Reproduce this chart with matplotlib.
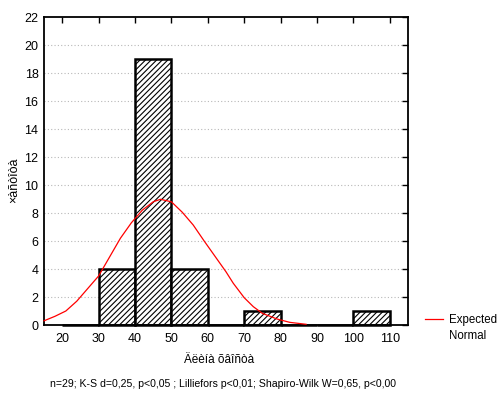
import matplotlib
matplotlib.use('Agg')
import matplotlib.pyplot as plt
from matplotlib.lines import Line2D


# histogram bins (left edges) and counts
BIN_LEFT = [20, 30, 40, 50, 60, 70, 80, 90, 100]
COUNTS = [0, 4, 19, 4, 0, 1, 0, 0, 1]
BIN_WIDTH = 10

# expected normal curve
CURVE_X = [15, 18, 21, 24, 27, 30, 33, 36, 39, 42, 45, 47, 50, 53, 56, 59,
           62, 65, 67, 70, 72.5, 75, 79, 82.5, 87]
CURVE_Y = [0.3, 0.62, 1.0, 1.7, 2.6, 3.5, 4.85, 6.2, 7.3, 8.2, 8.8, 8.98,
           8.8, 8.05, 7.14, 6.0, 4.9, 3.8, 2.98, 1.95, 1.31, 0.83, 0.43, 0.19, 0.05]

XTICKS = [20, 30, 40, 50, 60, 70, 80, 90, 100, 110]
YTICKS = list(range(0, 23, 2))

X_LABEL = 'Äëèíà õâîñòà'
Y_LABEL = '×àñòîòà'
STATS = 'n=29; K-S d=0,25, p<0,05 ; Lilliefors p<0,01; Shapiro-Wilk W=0,65, p<0,00'

if __name__ == '__main__':
    plt.rcParams['font.family'] = ['Liberation Sans', 'DejaVu Sans']
    plt.rcParams['hatch.linewidth'] = 0.8

    fig = plt.figure(figsize=(5.02, 3.99), dpi=100)
    ax = fig.add_axes([44 / 502, 74 / 399, 364 / 502, 308 / 399])

    for y in YTICKS[1:-1]:
        ax.axhline(y, color='#b8b8b8', lw=0.8, ls=(0, (1, 2)), zorder=0)

    ax.bar(BIN_LEFT, COUNTS, width=BIN_WIDTH, align='edge', facecolor='white',
           edgecolor='black', linewidth=1.8, hatch='//////', zorder=2, clip_on=False)

    ax.plot(CURVE_X, CURVE_Y, color='red', lw=0.9, zorder=3, clip_on=False)

    ax.set_xlim(15, 115)
    ax.set_ylim(0, 22)
    ax.set_xticks(XTICKS)
    ax.set_yticks(YTICKS)
    for s in ax.spines.values():
        s.set_linewidth(1.3)

    ax.tick_params(axis='both', labelsize=9, direction='in', length=4, width=1,
                   top=True, right=True, bottom=False, left=False)
    ax.tick_params(axis='x', pad=6)
    ax.tick_params(axis='y', pad=4)

    fig.text(14 / 502, 1 - 180 / 399, Y_LABEL, rotation=90, ha='center', va='center', fontsize=9)
    fig.text(219 / 502, 1 - 360 / 399, X_LABEL, ha='center', va='center', fontsize=8.5)
    fig.text(223 / 502, 1 - 384 / 399, STATS, ha='center', va='center', fontsize=7.6)

    # legend
    fig.add_artist(Line2D([425 / 502, 443 / 502], [1 - 319 / 399, 1 - 319 / 399],
                          color='red', lw=0.9, transform=fig.transFigure))
    fig.text(449 / 502, 1 - 320 / 399, 'Expected', ha='left', va='center', fontsize=8.3)
    fig.text(449 / 502, 1 - 336 / 399, 'Normal', ha='left', va='center', fontsize=8.3)

    fig.savefig('out.png', dpi=100)
